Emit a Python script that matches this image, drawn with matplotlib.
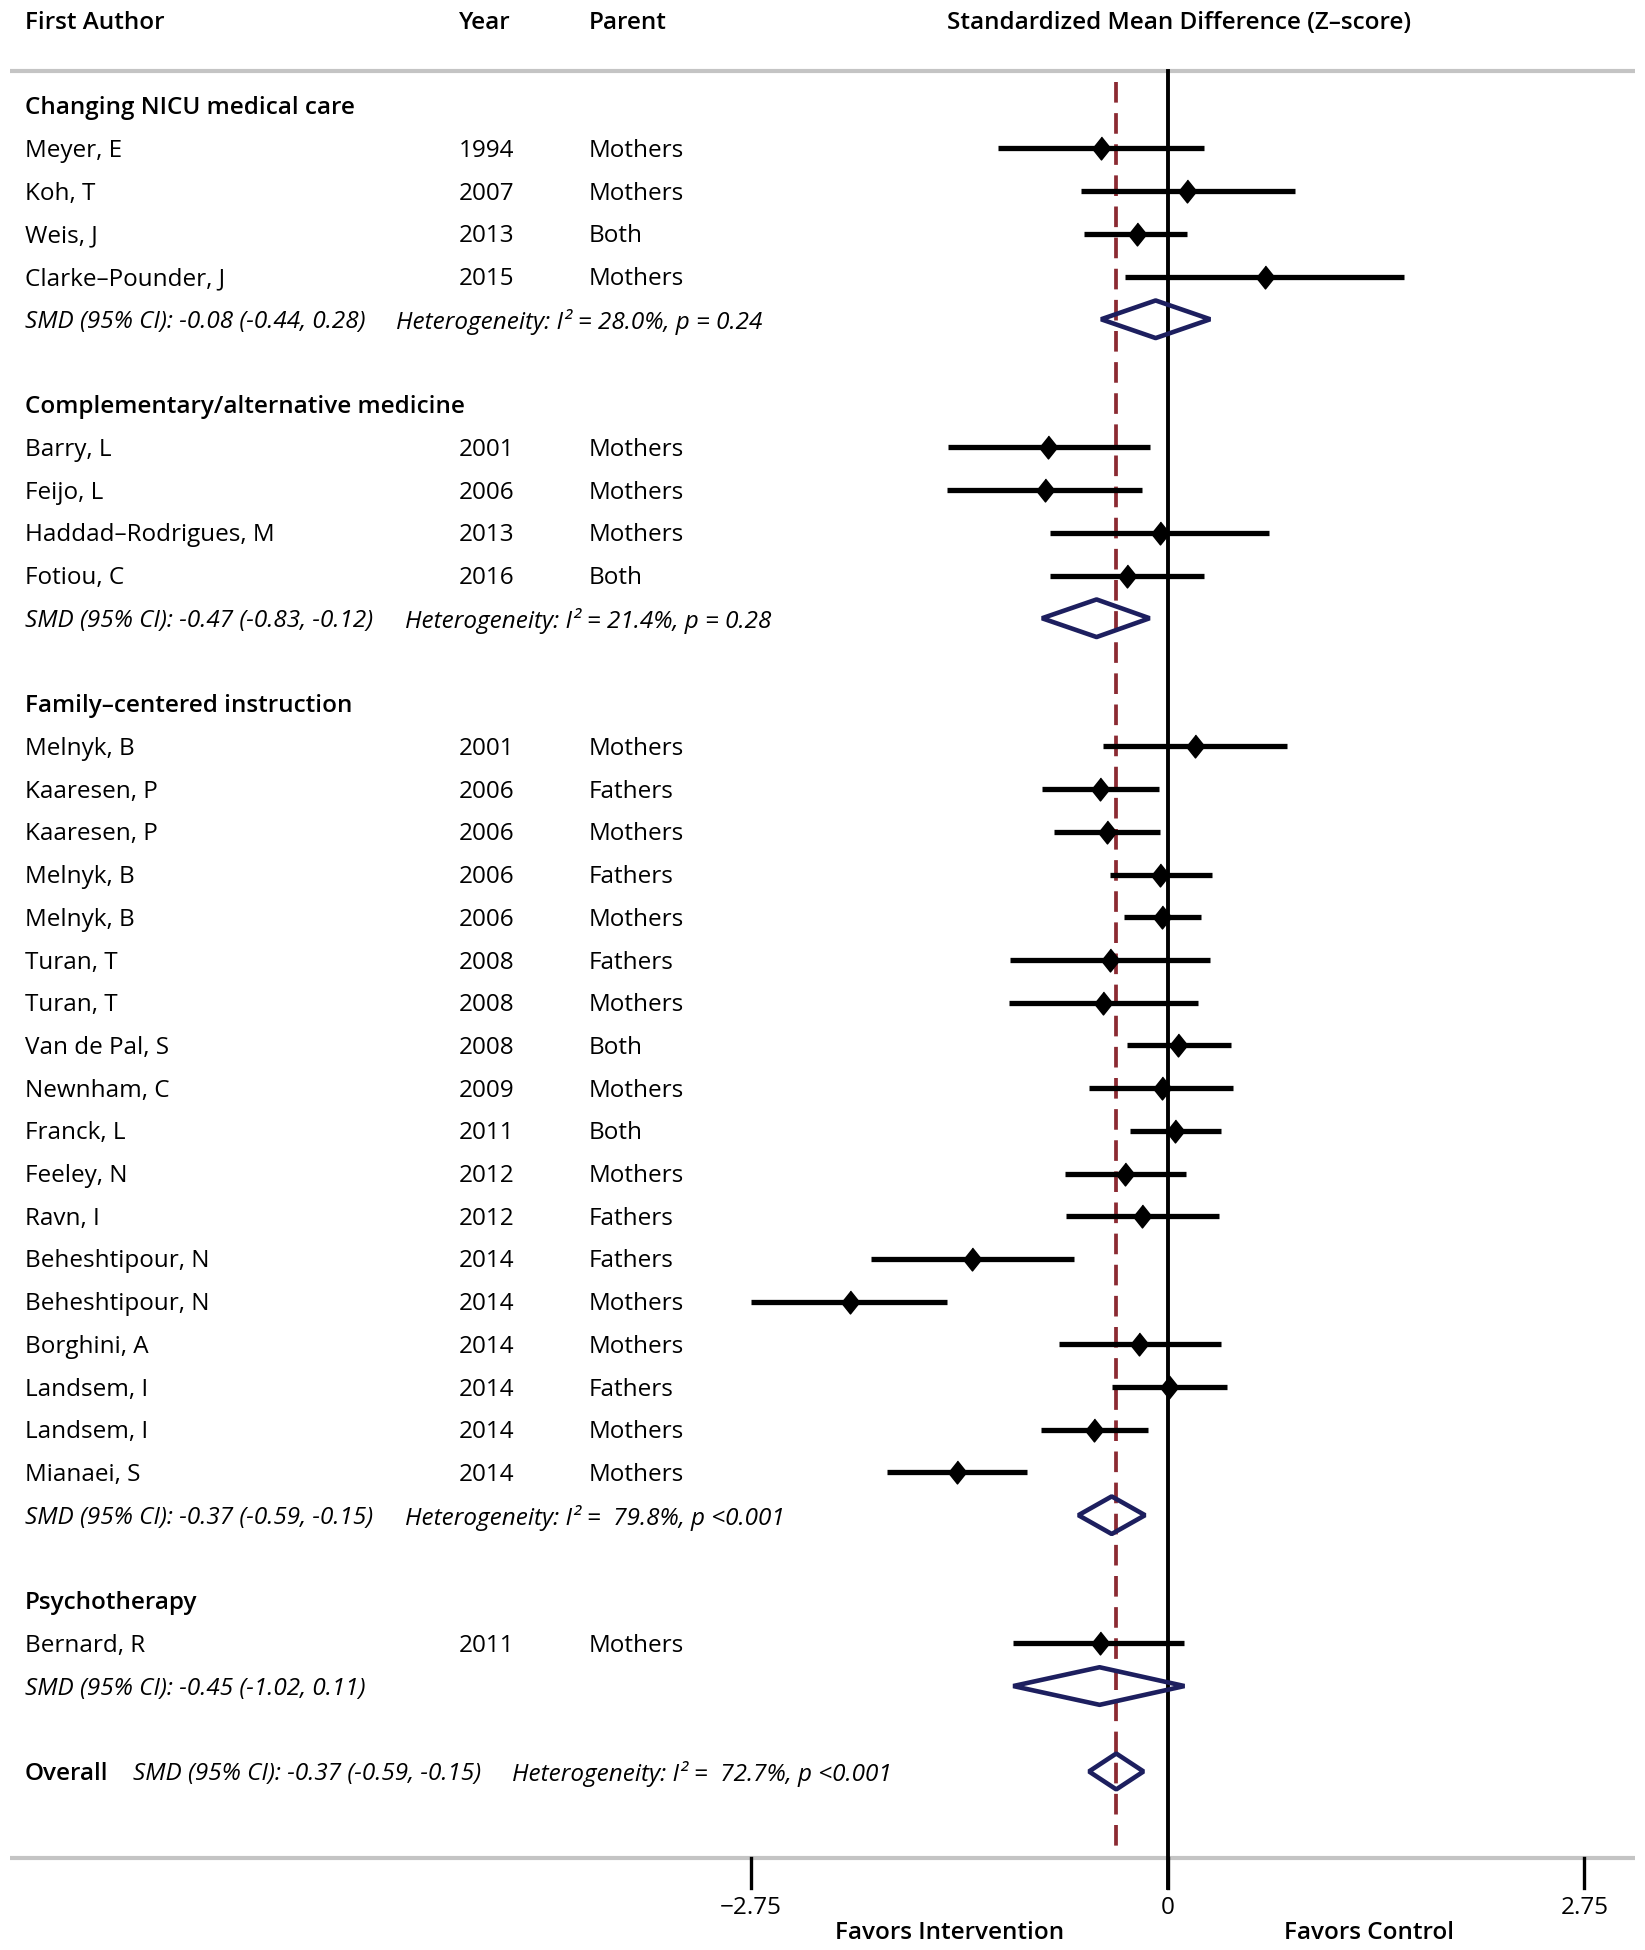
import numpy as np
import matplotlib.pyplot as plt
from matplotlib.transforms import blended_transform_factory

plt.rcParams['font.family'] = ['Open Sans', 'DejaVu Sans']

# subgroups
groups = ['Changing NICU medical care', 'Complementary/alternative medicine',
          'Family\u2013centered instruction', 'Psychotherapy']
grp_smd = [-0.08, -0.47, -0.37, -0.45]
grp_lo = [-0.44, -0.83, -0.59, -1.02]
grp_hi = [0.28, -0.12, -0.15, 0.11]
grp_het = ['I\u00b2 = 28.0%, p = 0.24', 'I\u00b2 = 21.4%, p = 0.28',
           'I\u00b2 =  79.8%, p <0.001', None]

# studies
group_of = [0, 0, 0, 0,
            1, 1, 1, 1,
            2, 2, 2, 2, 2, 2, 2, 2, 2, 2, 2, 2, 2, 2, 2, 2, 2, 2,
            3]
authors = ['Meyer, E', 'Koh, T', 'Weis, J', 'Clarke\u2013Pounder, J',
           'Barry, L', 'Feijo, L', 'Haddad\u2013Rodrigues, M', 'Fotiou, C',
           'Melnyk, B', 'Kaaresen, P', 'Kaaresen, P', 'Melnyk, B', 'Melnyk, B',
           'Turan, T', 'Turan, T', 'Van de Pal, S', 'Newnham, C', 'Franck, L',
           'Feeley, N', 'Ravn, I', 'Beheshtipour, N', 'Beheshtipour, N',
           'Borghini, A', 'Landsem, I', 'Landsem, I', 'Mianaei, S',
           'Bernard, R']
years = [1994, 2007, 2013, 2015,
         2001, 2006, 2013, 2016,
         2001, 2006, 2006, 2006, 2006, 2008, 2008, 2008, 2009, 2011,
         2012, 2012, 2014, 2014, 2014, 2014, 2014, 2014,
         2011]
parents = ['Mothers', 'Mothers', 'Both', 'Mothers',
           'Mothers', 'Mothers', 'Mothers', 'Both',
           'Mothers', 'Fathers', 'Mothers', 'Fathers', 'Mothers', 'Fathers',
           'Mothers', 'Both', 'Mothers', 'Both', 'Mothers', 'Fathers',
           'Fathers', 'Mothers', 'Mothers', 'Fathers', 'Mothers', 'Mothers',
           'Mothers']
smd = [-0.44, 0.13, -0.20, 0.64,
       -0.79, -0.81, -0.05, -0.27,
       0.18, -0.45, -0.40, -0.05, -0.04, -0.38, -0.43, 0.07, -0.04, 0.05,
       -0.28, -0.17, -1.29, -2.10, -0.19, 0.01, -0.49, -1.39,
       -0.45]
ci_lo = [-1.12, -0.57, -0.55, -0.28,
         -1.45, -1.46, -0.78, -0.78,
         -0.43, -0.83, -0.75, -0.38, -0.29, -1.04, -1.05, -0.27, -0.52, -0.25,
         -0.68, -0.67, -1.96, -2.75, -0.72, -0.37, -0.84, -1.85,
         -1.02]
ci_hi = [0.24, 0.84, 0.13, 1.56,
         -0.12, -0.17, 0.67, 0.24,
         0.79, -0.06, -0.05, 0.29, 0.22, 0.28, 0.20, 0.42, 0.43, 0.35,
         0.12, 0.34, -0.62, -1.46, 0.35, 0.39, -0.13, -0.93,
         0.11]

# overall: the drawn diamond and its printed label
overall = [-0.34, -0.52, -0.16]
overall_label = 'SMD (95% CI): -0.37 (-0.59, -0.15)'
overall_het = 'I\u00b2 =  72.7%, p <0.001'

xticks = [-2.75, 0, 2.75]
xticklabels = ['\u22122.75', '0', '2.75']

fs = 17.5
navy = '#1d1f5f'
dred = '#8b2a32'
grey = '#c4c4c4'
dy = 0.06   # text sits a touch below the row centre

fig = plt.figure(figsize=(16.45, 19.5), dpi=100)
ax = fig.add_axes([0, 0, 1, 1])
ax.set_xlim(-7.708, 3.150)
ax.set_ylim(43.18, -2.475)
ax.axis('off')
tx = blended_transform_factory(fig.transFigure, ax.transData)

# row layout
row = 0
head_rows, study_rows, sum_rows = [], [], []
for g in range(len(groups)):
    head_rows.append(row)
    row += 1
    for i in range(len(authors)):
        if group_of[i] == g:
            study_rows.append(row)
            row += 1
    sum_rows.append(row)
    row += 2
overall_row = row
top_line = -0.815
bot_line = 41.02

# header
hy = -2.0 + dy
ax.text(0.0152, hy, 'First Author', transform=tx, fontsize=fs, fontweight='semibold', va='center')
ax.text(0.279, hy, 'Year', transform=tx, fontsize=fs, fontweight='semibold', va='center')
ax.text(0.358, hy, 'Parent', transform=tx, fontsize=fs, fontweight='semibold', va='center')
ax.text(0.717, hy, 'Standardized Mean Difference (Z\u2013score)', transform=tx, fontsize=fs,
        fontweight='semibold', va='center', ha='center')

# grey rules
ax.plot([0.006, 0.994], [top_line, top_line], transform=tx, color=grey, lw=3, solid_capstyle='butt')
ax.plot([0.006, 0.994], [bot_line, bot_line], transform=tx, color=grey, lw=3, solid_capstyle='butt')

# reference lines
ax.plot([0, 0], [top_line, 41.72], color='black', lw=2.8, zorder=2)
ax.plot([overall[0], overall[0]], [top_line + 0.25, bot_line], color=dred, lw=2.7,
        linestyle=(0, (5.5, 2.8)), zorder=1)
for t in xticks:
    ax.plot([t, t], [bot_line, 41.72], color='black', lw=2.4)
for t, lab in zip(xticks, xticklabels):
    ax.text(t, 42.13 + dy, lab, fontsize=fs, ha='center', va='center')
ax.text(-1.44, 42.73 + dy, 'Favors Intervention', fontsize=fs, fontweight='semibold', ha='center', va='center')
ax.text(1.33, 42.73 + dy, 'Favors Control', fontsize=fs, fontweight='semibold', ha='center', va='center')

# studies
diam = [(0, 1), (0.8, 0), (0, -1), (-0.8, 0)]
for i, r in enumerate(study_rows):
    ax.text(0.0152, r + dy, authors[i], transform=tx, fontsize=fs, va='center')
    ax.text(0.279, r + dy, str(years[i]), transform=tx, fontsize=fs, va='center')
    ax.text(0.358, r + dy, parents[i], transform=tx, fontsize=fs, va='center')
    ax.plot([ci_lo[i], ci_hi[i]], [r, r], color='black', lw=3.8, solid_capstyle='butt', zorder=3)
    ax.plot(smd[i], r, marker=diam, color='black', markersize=16.5, zorder=4)

# subgroup summaries
het_x = [0.241, 0.2464, 0.2464, None]
h = 0.44
for g, r in enumerate(head_rows):
    ax.text(0.0152, r + dy, groups[g], transform=tx, fontsize=fs, fontweight='semibold', va='center')
    sr = sum_rows[g]
    ax.text(0.0152, sr + dy, 'SMD (95%% CI): %.2f (%.2f, %.2f)' % (grp_smd[g], grp_lo[g], grp_hi[g]),
            transform=tx, fontsize=fs, style='italic', va='center')
    if grp_het[g] is not None:
        ax.text(het_x[g], sr + dy, 'Heterogeneity: ' + grp_het[g], transform=tx, fontsize=fs,
                style='italic', va='center')
    ax.fill([grp_lo[g], grp_smd[g], grp_hi[g], grp_smd[g]], [sr, sr - h, sr, sr + h],
            facecolor='none', edgecolor=navy, lw=3.3, joinstyle='bevel', zorder=5)

# overall
r = overall_row
ax.text(0.0152, r + dy, 'Overall', transform=tx, fontsize=fs, fontweight='semibold', va='center')
ax.text(0.0809, r + dy, overall_label, transform=tx, fontsize=fs, style='italic', va='center')
ax.text(0.3114, r + dy, 'Heterogeneity: ' + overall_het, transform=tx, fontsize=fs,
        style='italic', va='center')
ax.fill([overall[1], overall[0], overall[2], overall[0]], [r, r - 0.42, r, r + 0.42],
        facecolor='none', edgecolor=navy, lw=3.3, joinstyle='bevel', zorder=5)

fig.savefig('out.png', dpi=100)
